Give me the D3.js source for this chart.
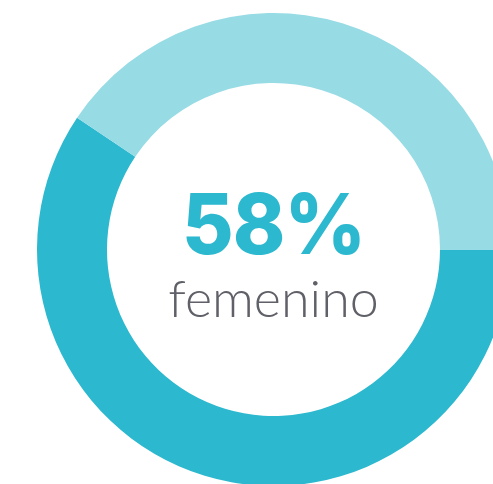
<!DOCTYPE html>
<html>
<head>
<meta charset="utf-8">
<script src="https://cdn.jsdelivr.net/npm/d3@7"></script>
<style>
  body { margin: 0; background: #fff; }
  svg { display: block; }
</style>
</head>
<body>
<div id="chart"></div>
<script>
// shares of the ring (femenino, masculino)
const categories = ["femenino", "masculino"];
const shares = [59.4, 40.6];
const colors = ["#2cb8ce", "#97dbe5"];
const labelValue = "58%";
const labelText = "femenino";

const width = 493, height = 484;
const cx = 273.5, cy = 249.5;
const outerR = 236.5, innerR = 166.5;

const svg = d3.select("#chart").append("svg")
    .attr("width", width)
    .attr("height", height);

const g = svg.append("g")
    .attr("transform", `translate(${cx},${cy})`);

const pie = d3.pie()
    .sort(null)
    .startAngle(Math.PI / 2)
    .endAngle(Math.PI / 2 + 2 * Math.PI);

const arc = d3.arc()
    .innerRadius(innerR)
    .outerRadius(outerR);

const color = d3.scaleOrdinal(categories, colors);

g.selectAll("path")
    .data(pie(shares))
    .join("path")
    .attr("d", arc)
    .attr("fill", (d, i) => color(categories[i]));

// centre labels
const big = g.append("text")
    .attr("x", 0)
    .attr("y", 4.5)
    .attr("text-anchor", "middle")
    .attr("fill", "#2cb8ce")
    .style("font", "800 84px Inter, Lato, sans-serif")
    .style("letter-spacing", "-1px")
    .text(labelValue);

// squeeze / stretch to the width seen in the picture
const bw = big.node().getComputedTextLength();
big.attr("textLength", 183).attr("lengthAdjust", "spacingAndGlyphs");

g.append("text")
    .attr("x", 0)
    .attr("y", 67)
    .attr("text-anchor", "middle")
    .attr("fill", "#606168")
    .style("font", "300 52px Lato, 'Open Sans', sans-serif")
    .text(labelText);
</script>
</body>
</html>
